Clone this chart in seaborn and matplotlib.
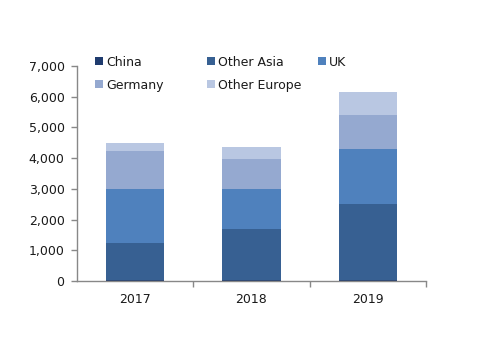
import matplotlib
matplotlib.use("Agg")
import matplotlib.pyplot as plt
import seaborn as sns
import numpy as np
import pandas as pd
from matplotlib.patches import Patch
from matplotlib.ticker import FuncFormatter, FixedLocator

years = ["2017", "2018", "2019"]
series = ["China", "Other Asia", "UK", "Germany", "Other Europe"]
china = [30, 30, 30]
other_asia = [1220, 1660, 2490]
uk = [1740, 1310, 1770]
germany = [1250, 970, 1110]
other_europe = [240, 380, 750]
colors = ["#1f3b6e", "#376092", "#4f81bd", "#95a9d0", "#b9c7e2"]

sns.set_theme(style="white")
plt.rcParams['font.family'] = ['DejaVu Sans']

values = [china, other_asia, uk, germany, other_europe]
df = pd.DataFrame({"year": years})
cum = np.zeros(len(years))
for name, vals in zip(series, values):
    cum = cum + np.array(vals)
    df[name] = cum

fig = plt.figure(figsize=(5, 3.53), dpi=100)
ax = fig.add_axes([0.154, 0.204, 0.698, 0.609])

for name, col in reversed(list(zip(series, colors))):
    sns.barplot(data=df, x="year", y=name, color=col, width=0.5,
                saturation=1, ax=ax, linewidth=0)

ax.set_ylim(0, 7000)
ax.set_xlim(-0.5, 2.5)
ax.set_yticks(range(0, 7001, 1000))
ax.yaxis.set_major_formatter(FuncFormatter(lambda v, p: f"{int(v):,}"))
ax.set_xlabel("")
ax.set_ylabel("")
ax.set_xticks([0, 1, 2])
ax.set_xticklabels(years)
ax.xaxis.set_minor_locator(FixedLocator([0.5, 1.5, 2.5]))
ax.tick_params(axis="x", which="major", length=0, pad=9, labelsize=9, colors="#1a1a1a")
ax.tick_params(axis="x", which="minor", length=4, width=1, color="#888888", direction="out")
ax.tick_params(axis="y", length=4, width=1, color="#888888", direction="out", labelsize=9,
               labelcolor="#1a1a1a", left=True, pad=5)
ax.tick_params(axis="x", bottom=True, which="both")
for s in ["top", "right"]:
    ax.spines[s].set_visible(False)
for s in ["left", "bottom"]:
    ax.spines[s].set_color("#888888")
    ax.spines[s].set_linewidth(1)

handles = [Patch(facecolor=c, edgecolor="none", label=n) for n, c in zip(series, colors)]
columns = [[0, 3], [1, 4], [2]]
xs = [0.19, 0.414, 0.636]
for idx, x in zip(columns, xs):
    leg = fig.legend([handles[i] for i in idx], [series[i] for i in idx],
                     loc="upper left", bbox_to_anchor=(x, 0.842),
                     frameon=False, fontsize=9, handlelength=0.6, handleheight=0.6,
                     handletextpad=0.3, labelspacing=0.78, borderpad=0, borderaxespad=0)
    for t in leg.get_texts():
        t.set_color("#1a1a1a")

fig.savefig("out.png", dpi=100)
